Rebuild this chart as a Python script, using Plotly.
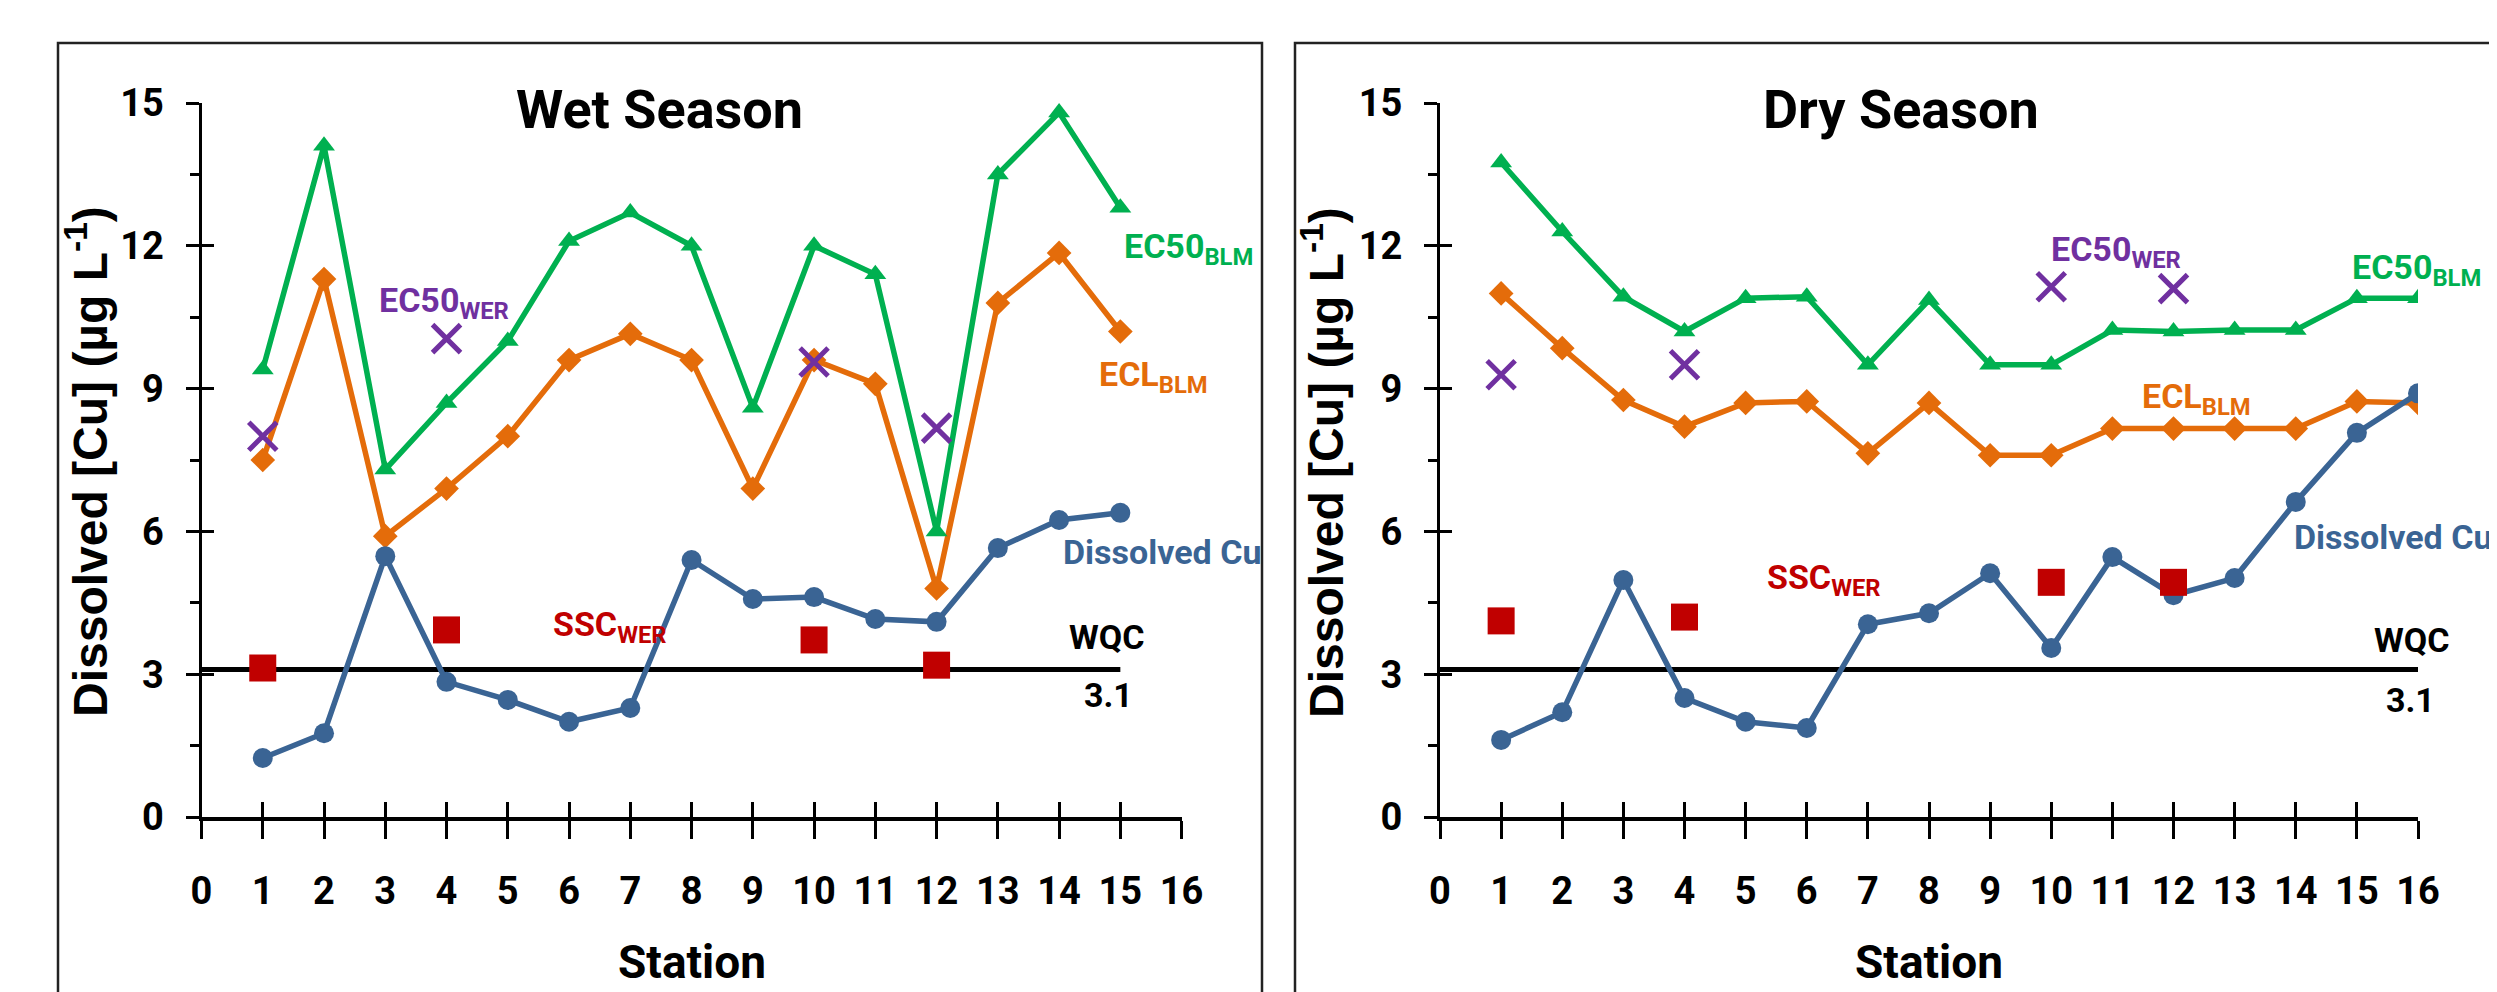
import plotly.graph_objects as go

# ---------------- data ----------------
wet_stations = list(range(1, 16))
dry_stations = list(range(1, 17))
wer_stations = [1, 4, 10, 12]

wet_ec50_blm = [9.4, 14.1, 7.3, 8.7, 10.0, 12.1, 12.7, 12.0, 8.6, 12.0, 11.4, 6.0, 13.5, 14.8, 12.8]
wet_ecl_blm = [7.5, 11.3, 5.9, 6.9, 8.0, 9.6, 10.15, 9.6, 6.9, 9.6, 9.1, 4.8, 10.8, 11.85, 10.2]
wet_cu = [1.24, 1.76, 5.48, 2.84, 2.46, 2.0, 2.29, 5.4, 4.58, 4.62, 4.16, 4.1, 5.65, 6.24, 6.39]
wet_ec50_wer = [8.0, 10.05, 9.56, 8.17]
wet_ssc_wer = [3.13, 3.93, 3.72, 3.19]

dry_ec50_blm = [13.75, 12.3, 10.93, 10.2, 10.9, 10.93, 9.5, 10.86, 9.5, 9.5, 10.23, 10.2, 10.23, 10.23, 10.9, 10.9]
dry_ecl_blm = [11.0, 9.85, 8.76, 8.2, 8.7, 8.73, 7.64, 8.7, 7.6, 7.6, 8.16, 8.16, 8.16, 8.16, 8.73, 8.7]
dry_cu = [1.62, 2.2, 4.98, 2.5, 2.0, 1.87, 4.05, 4.28, 5.12, 3.55, 5.46, 4.66, 5.02, 6.62, 8.07, 8.9]
dry_ec50_wer = [9.29, 9.5, 11.14, 11.1]
dry_ssc_wer = [4.12, 4.2, 4.93, 4.93]

wqc_value = 3.1
wqc_x_wet = [0, 15]
wqc_x_dry = [0, 16]

x_ticks = list(range(0, 17))
y_ticks = [0, 3, 6, 9, 12, 15]

# ---------------- styles ----------------
GREEN = "#00B050"
ORANGE = "#E46C0A"
BLUE = "#3A6494"
PURPLE = "#7030A0"
RED = "#C00000"
LBL = "Roboto, Liberation Sans, sans-serif"
WIDE = "Liberation Sans, Arial, sans-serif"

W, H = 2497, 992
OFF = 8  # page body margin offset of the plot div


def px(sx):
    """screen x pixel -> paper fraction"""
    return (sx - OFF) / W


def py(sy):
    """screen y pixel -> paper fraction"""
    return 1 - (sy - OFF) / H


Y_DOM = [py(817), py(103)]
X_DOM1 = [px(201.5), px(1181.6)]
X_DOM2 = [px(1440), px(2418)]

fig = go.Figure()


def add_panel(xa, ya, stations, ec50_blm, ecl_blm, cu, ec50_wer, ssc_wer, wqc_x):
    fig.add_trace(go.Scatter(x=wqc_x, y=[wqc_value] * len(wqc_x), mode="lines",
                             line=dict(color="black", width=5), xaxis=xa, yaxis=ya, showlegend=False))
    fig.add_trace(go.Scatter(x=stations, y=ecl_blm, mode="lines+markers",
                             line=dict(color=ORANGE, width=5.5),
                             marker=dict(symbol="diamond", size=19, color=ORANGE),
                             xaxis=xa, yaxis=ya, showlegend=False))
    fig.add_trace(go.Scatter(x=stations, y=ec50_blm, mode="lines+markers",
                             line=dict(color=GREEN, width=5.5),
                             marker=dict(symbol="triangle-up", size=19, color=GREEN),
                             xaxis=xa, yaxis=ya, showlegend=False))
    fig.add_trace(go.Scatter(x=stations, y=cu, mode="lines+markers",
                             line=dict(color=BLUE, width=5.5),
                             marker=dict(symbol="circle", size=20, color=BLUE),
                             xaxis=xa, yaxis=ya, showlegend=False))
    fig.add_trace(go.Scatter(x=wer_stations, y=ec50_wer, mode="markers",
                             marker=dict(symbol="x-thin", size=28, line=dict(color=PURPLE, width=5)),
                             xaxis=xa, yaxis=ya, showlegend=False))
    fig.add_trace(go.Scatter(x=wer_stations, y=ssc_wer, mode="markers",
                             marker=dict(symbol="square", size=27, color=RED),
                             xaxis=xa, yaxis=ya, showlegend=False))


add_panel("x", "y", wet_stations, wet_ec50_blm, wet_ecl_blm, wet_cu, wet_ec50_wer, wet_ssc_wer, wqc_x_wet)
add_panel("x2", "y2", dry_stations, dry_ec50_blm, dry_ecl_blm, dry_cu, dry_ec50_wer, dry_ssc_wer, wqc_x_dry)

# empty traces to activate overlay axes (inner halves of crossing ticks)
for xa, ya in [("x3", "y"), ("x", "y3"), ("x4", "y2"), ("x2", "y4")]:
    fig.add_trace(go.Scatter(x=[], y=[], xaxis=xa, yaxis=ya, showlegend=False, hoverinfo="skip"))

tickfont = dict(family=LBL, size=38, color="black", weight="bold")

xbase = dict(range=[0, 16], tickmode="array", tickvals=x_ticks, ticktext=[str(v) for v in x_ticks],
             showgrid=False, zeroline=False, showline=True, linecolor="black", linewidth=4,
             ticks="outside", ticklen=18, tickwidth=3, tickcolor="black", automargin=False,
             tickfont=tickfont, ticklabelstandoff=19, fixedrange=True)
ybase = dict(range=[0, 15], tickmode="array", tickvals=y_ticks, ticktext=[str(v) for v in y_ticks],
             domain=Y_DOM, showgrid=False, zeroline=False, showline=True, linecolor="black", linewidth=3,
             ticks="outside", ticklen=13, tickwidth=3, tickcolor="black", automargin=False,
             minor=dict(dtick=1.5, tick0=0, ticks="outside", ticklen=9, tickwidth=3, tickcolor="black"),
             tickfont=tickfont, ticklabelstandoff=14, fixedrange=True)
xover = dict(range=[0, 16], tickmode="array", tickvals=x_ticks, showticklabels=False,
             showgrid=False, zeroline=False, showline=False, automargin=False,
             ticks="inside", ticklen=15, tickwidth=3, tickcolor="black", fixedrange=True)
yover = dict(range=[0, 15], tickmode="array", tickvals=y_ticks, showticklabels=False,
             showgrid=False, zeroline=False, showline=False, automargin=False,
             ticks="inside", ticklen=12, tickwidth=3, tickcolor="black", fixedrange=True)

fig.update_layout(
    xaxis=dict(xbase, domain=X_DOM1, anchor="y"),
    yaxis=dict(ybase, anchor="x"),
    xaxis2=dict(xbase, domain=X_DOM2, anchor="y2"),
    yaxis2=dict(ybase, anchor="x2"),
    xaxis3=dict(xover, overlaying="x", anchor="y", side="bottom"),
    yaxis3=dict(yover, overlaying="y", anchor="x", side="left"),
    xaxis4=dict(xover, overlaying="x2", anchor="y2", side="bottom"),
    yaxis4=dict(yover, overlaying="y2", anchor="x2", side="left"),
)

# panel frames (open at the cut edges, as in the reference)
top = py(43)
fig.add_shape(type="path", xref="paper", yref="paper",
              path=f"M {px(58)},0 L {px(58)},{top} L {px(1262)},{top} L {px(1262)},0",
              line=dict(color="#222222", width=2.5), layer="below")
fig.add_shape(type="path", xref="paper", yref="paper",
              path=f"M {px(1295)},0 L {px(1295)},{top} L 1,{top}",
              line=dict(color="#222222", width=2.5), layer="below")

ann = []


def lab(text, x, y, xr, yr, color, size=34, xanchor="left", family=LBL, angle=0):
    ann.append(dict(text="<b>" + text + "</b>", x=x, y=y, xref=xr, yref=yr, xanchor=xanchor, yanchor="middle",
                    showarrow=False, textangle=angle,
                    font=dict(family=family, size=size, color=color)))


# titles
lab("Wet Season", 7.47, py(109), "x", "paper", "black", size=54, xanchor="center")
lab("Dry Season", 7.55, py(109), "x2", "paper", "black", size=54, xanchor="center")
lab("Station", 8, py(962), "x", "paper", "black", size=46, xanchor="center")
lab("Station", 8, py(962), "x2", "paper", "black", size=46, xanchor="center")
ytitle = "Dissolved [Cu] (µg L<sup>-1</sup>)"
lab(ytitle, px(87), py(462), "paper", "paper", "black", size=48, xanchor="center", family=WIDE, angle=-90)
lab(ytitle, px(1323), py(462), "paper", "paper", "black", size=48, xanchor="center", family=WIDE, angle=-90)

# series labels, wet
lab("EC50<sub>WER</sub>", 2.86, 10.8, "x", "y", PURPLE)
lab("EC50<sub>BLM</sub>", 15.03, 11.95, "x", "y", GREEN)
lab("ECL<sub>BLM</sub>", 14.62, 9.25, "x", "y", ORANGE)
lab("Dissolved Cu", 14.03, 5.57, "x", "y", BLUE)
lab("SSC<sub>WER</sub>", 5.7, 4.0, "x", "y", RED)
lab("WQC", 14.13, 3.78, "x", "y", "black")
lab("3.1", 14.37, 2.56, "x", "y", "black")

# series labels, dry
lab("EC50<sub>WER</sub>", 9.97, 11.87, "x2", "y2", PURPLE)
lab("EC50<sub>BLM</sub>", 14.88, 11.5, "x2", "y2", GREEN)
lab("ECL<sub>BLM</sub>", 11.46, 8.8, "x2", "y2", ORANGE)
lab("Dissolved Cu", px(2494), py(537), "paper", "paper", BLUE, xanchor="right")
lab("SSC<sub>WER</sub>", 5.32, 5.0, "x2", "y2", RED)
lab("WQC", 15.25, 3.72, "x2", "y2", "black")
lab("3.1", 15.45, 2.46, "x2", "y2", "black")

fig.update_layout(annotations=ann, width=W, height=H, autosize=False,
                  margin=dict(l=0, r=0, t=0, b=0, pad=0),
                  paper_bgcolor="white", plot_bgcolor="rgba(0,0,0,0)")

fig.write_html("out.html")
